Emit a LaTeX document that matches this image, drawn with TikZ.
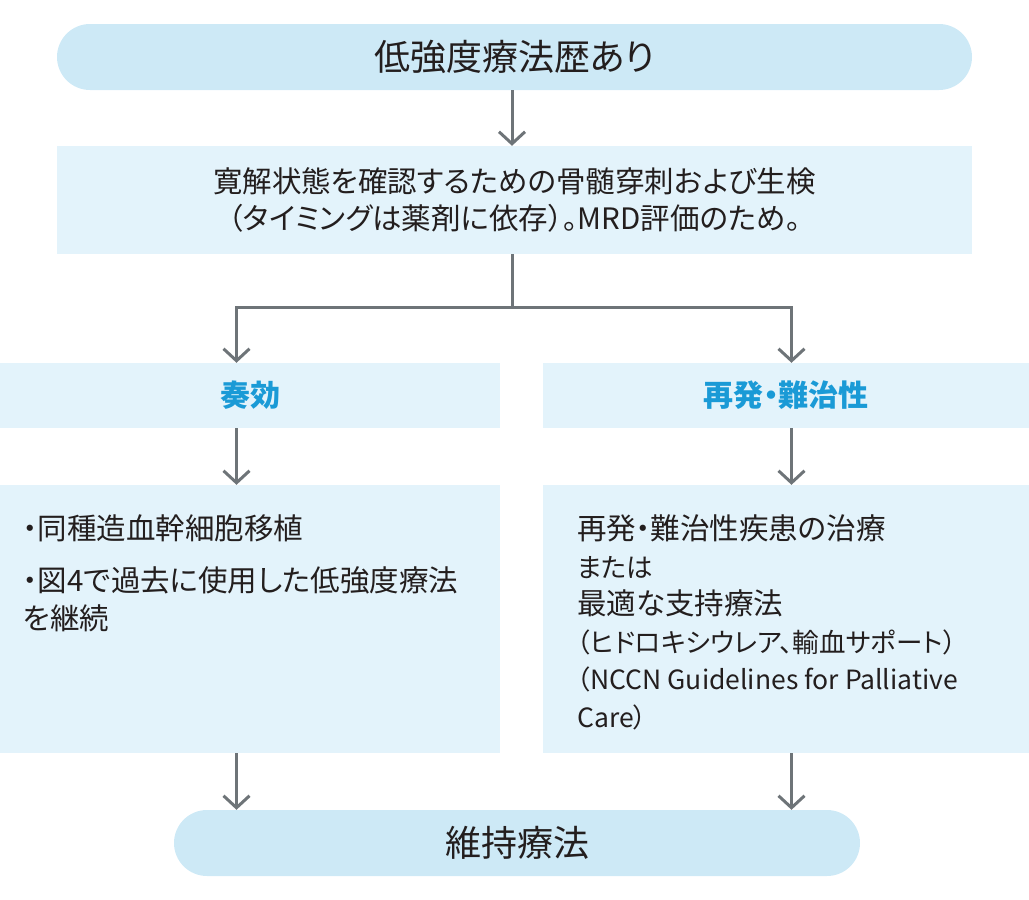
\documentclass[tikz,border=0pt]{standalone}
\usepackage{fontspec}
\setmainfont{Noto Sans CJK JP}[RawFeature=+palt]
\usetikzlibrary{arrows.meta}
\definecolor{pillblue}{RGB}{205,233,246}
\definecolor{boxblue}{RGB}{227,243,251}
\definecolor{arrgray}{RGB}{110,116,120}
\definecolor{headblue}{RGB}{26,154,214}
\definecolor{txtcol}{RGB}{35,30,30}
\newcommand{\smalltxt}{\fontsize{26.5}{37.5}\selectfont}
\begin{document}
\begin{tikzpicture}[x=1pt,y=-1pt,
  pill/.style={fill=pillblue, draw=none, rounded corners=33pt, inner sep=0pt, text=txtcol,
    font=\fontsize{36}{42}\selectfont},
  box/.style={fill=boxblue, draw=none, inner sep=0pt, text=txtcol},
  head/.style={box, text=headblue, font=\fontsize{30}{36}\selectfont\bfseries},
  body/.style={inner sep=0pt, text=txtcol, align=left},
  conn/.style={draw=arrgray, line width=3pt},
  arr/.style={conn, -{Straight Barb[length=12pt, width=26pt, line width=3pt]}}]
\useasboundingbox (0,0) rectangle (1029,900);

\node[pill, minimum width=915pt, minimum height=66pt] (top) at (514.5,57) {低強度療法歴あり};
\node[box, minimum width=915pt, minimum height=108pt, align=center,
  font=\fontsize{29.5}{37}\selectfont] (mid) at (514.5,200)
  {寛解状態を確認するための骨髄穿刺および生検\\（タイミングは薬剤に依存）。MRD評価のため。};

\node[head, minimum width=500pt, minimum height=65pt] (l1) at (250,395.5) {奏効};
\node[head, minimum width=486pt, minimum height=65pt] (r1) at (786,395.5) {再発・難治性};

\node[box, minimum width=500pt, minimum height=268pt] (l2) at (250,619) {};
\node[box, minimum width=486pt, minimum height=268pt] (r2) at (786,619) {};

\node[body, anchor=base west, font=\fontsize{29.5}{38}\selectfont] (l2t) at (23,629)
  {・同種造血幹細胞移植\\[14pt]・図4で過去に使用した低強度療法\\を継続};
\node[body, anchor=base west, font=\fontsize{29.5}{37.5}\selectfont] (r2t) at (577,727)
  {再発・難治性疾患の治療\\{\smalltxt または}\\最適な支持療法\\{\smalltxt （ヒドロキシウレア、輸血サポート）}\\{\smalltxt （NCCN Guidelines for Palliative}\\{\smalltxt Care）}};

\node[pill, minimum width=686pt, minimum height=66pt] (bot) at (517,843) {維持療法};

\coordinate (jm) at (512,307);
\coordinate (jl) at (236.5,307);
\coordinate (jr) at (791.5,307);

\draw[arr] (top.south -| jm) -- (mid.north -| jm);
\draw[conn] (mid.south -| jm) -- (jm);
\draw[arr] (jm) -- (jl) -- (l1.north -| jl);
\draw[arr] (jm) -- (jr) -- (r1.north -| jr);
\draw[arr] (l1.south -| jl) -- (l2.north -| jl);
\draw[arr] (r1.south -| jr) -- (r2.north -| jr);
\draw[arr] (l2.south -| jl) -- (bot.north -| jl);
\draw[arr] (r2.south -| jr) -- (bot.north -| jr);
\end{tikzpicture}
\end{document}
